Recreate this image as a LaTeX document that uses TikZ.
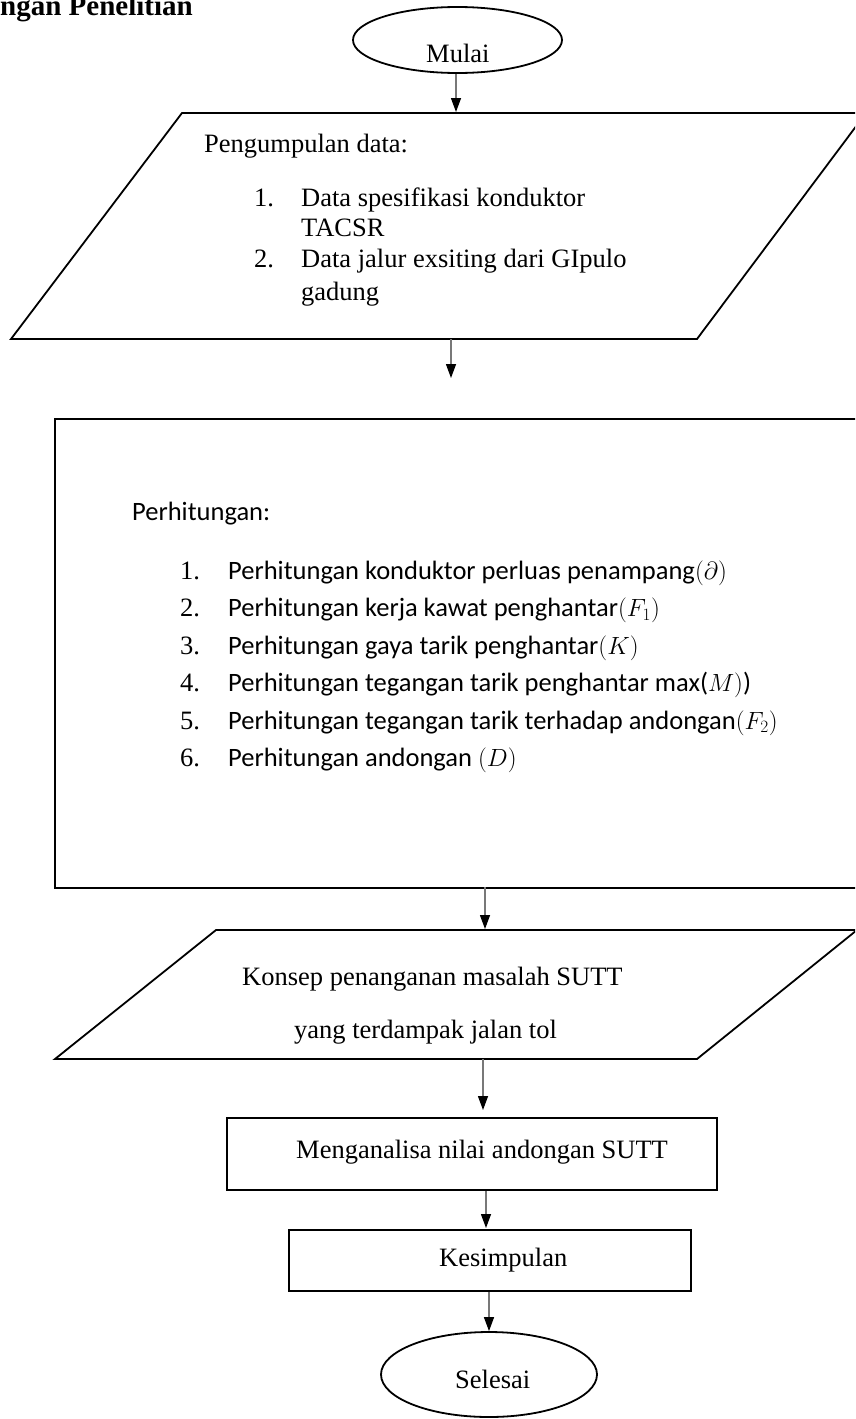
\documentclass[tikz,border=0pt]{standalone}
\usepackage{fontspec}
\setmainfont{Liberation Serif}
\newfontfamily\carlitofont{Carlito}
\usetikzlibrary{arrows.meta,shapes.geometric}
\definecolor{arrowgray}{RGB}{120,120,120}
\begin{document}
\begin{tikzpicture}[x=1pt,y=-1pt,
  shapeline/.style={draw=black,line width=1.8pt,line join=miter},
  flowarrow/.style={draw=arrowgray,line width=1.3pt,-{Triangle[width=10pt,length=14pt,color=black]}},
  txt/.style={inner sep=0pt,anchor=base west,font=\fontsize{26.5}{30}\selectfont},
  ctxt/.style={inner sep=0pt,anchor=base west,font=\carlitofont\fontsize{26.5}{30}\selectfont},
]
\clip (0,0) rectangle (855,1419);

% title
\node[inner sep=0pt,anchor=base west,font=\bfseries\fontsize{29}{32}\selectfont] (title) at (0,15) {ngan Penelitian};

% start
\node[ellipse,shapeline,minimum width=209pt,minimum height=66pt,inner sep=0pt] (mulai) at (457.5,40) {};
\node[txt] (mulaitxt) at (426,62) {Mulai};

% parallelogram 1
\coordinate (p1a) at (182,113);
\coordinate (p1b) at (866,113);
\coordinate (p1c) at (697,339);
\coordinate (p1d) at (11,339);
\draw[shapeline] (p1a) -- (p1b) -- (p1c) -- (p1d) -- cycle;
\coordinate (p1in) at (456,112);
\coordinate (p1out) at (451,339);
\coordinate (a2end) at (451,378);
\draw[flowarrow] (mulai.south -| p1in) -- (p1in);
\draw[flowarrow] (p1out) -- (a2end);

\node[txt] (t1) at (204,152) {Pengumpulan data:};
\node[txt] (t1n1) at (254,206) {1.};
\node[txt] (t1i1) at (301,206) {Data spesifikasi konduktor};
\node[txt] (t1i1b) at (301,236) {TACSR};
\node[txt] (t1n2) at (254,267) {2.};
\node[txt] (t1i2) at (301,267) {Data jalur exsiting dari GIpulo};
\node[txt] (t1i2b) at (301,300) {gadung};

% calculation box
\node[shapeline,rectangle,anchor=north west,inner sep=0pt,minimum width=816pt,minimum height=469pt] (calc) at (54,418) {};
\node[ctxt] (ctitle) at (132,520) {Perhitungan:};
\foreach \i/\body [count=\k from 0] in {
  1/{Perhitungan konduktor perluas penampang$(\partial)$},
  2/{Perhitungan kerja kawat penghantar$(F_1)$},
  3/{Perhitungan gaya tarik penghantar$(K)$},
  4/{Perhitungan tegangan tarik penghantar max($M)$)},
  5/{Perhitungan tegangan tarik terhadap andongan$(F_2)$},
  6/{Perhitungan andongan $(D)$}} {
  \node[txt] (cn\i) at (180,579+37.5*\k) {\i.};
  \node[ctxt] (ci\i) at (228,579+37.5*\k) {\body};
}

\coordinate (calcout) at (485,887);
\coordinate (p2in) at (485,929);
\draw[flowarrow] (calcout) -- (p2in);

% parallelogram 2
\coordinate (p2a) at (216,930);
\coordinate (p2b) at (857,930);
\coordinate (p2c) at (697,1059);
\coordinate (p2d) at (55,1059);
\draw[shapeline] (p2a) -- (p2b) -- (p2c) -- (p2d) -- cycle;
\node[txt] (t2a) at (242,985) {Konsep penanganan masalah SUTT};
\node[txt] (t2b) at (294,1038) {yang terdampak jalan tol};

\coordinate (p2out) at (483,1059);
\coordinate (a4end) at (483,1110);
\draw[flowarrow] (p2out) -- (a4end);

% analysis box
\node[shapeline,rectangle,anchor=north west,inner sep=0pt,minimum width=490pt,minimum height=72pt] (analisa) at (226,1117) {};
\node[txt] (analisatxt) at (296,1158) {Menganalisa nilai andongan SUTT};

\coordinate (a5x) at (486,1228);
\draw[flowarrow] (analisa.south -| a5x) -- (a5x);

% conclusion box
\node[shapeline,rectangle,anchor=north west,inner sep=0pt,minimum width=402pt,minimum height=61pt] (kesimpulan) at (288,1229) {};
\node[txt] (kesimpulantxt) at (439,1266) {Kesimpulan};

% end
\node[ellipse,shapeline,minimum width=216pt,minimum height=85pt,inner sep=0pt] (selesai) at (489,1374.5) {};
\node[txt] (selesaitxt) at (455,1388) {Selesai};
\draw[flowarrow] (kesimpulan.south -| selesai.north) -- (selesai.north);
\end{tikzpicture}
\end{document}
